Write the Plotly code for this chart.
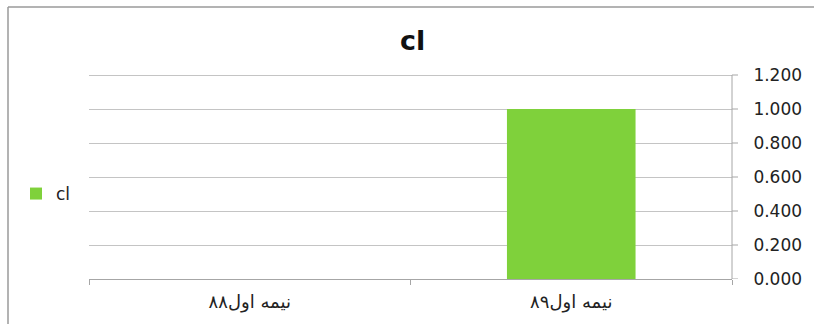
import plotly.graph_objects as go

categories = ["نیمه اول۸۸", "نیمه اول۸۹"]
values = [0, 1.0]
series_name = "cl"
tick_vals = [0, 0.2, 0.4, 0.6, 0.8, 1.0, 1.2]
tick_text = ["0.000", "0.200", "0.400", "0.600", "0.800", "1.000", "1.200"]

W, H = 814, 324
L, R, T, B = 89, 82, 72, 45
pw = W - L - R
ph = H - T - B
y_top = 1.2 * ph / 204.0  # keep 1.200 at y=75 and 0 at y=279

def px_x(x):
    return (x - L) / pw

def px_y(y):
    return (H - B - y) / ph

fig = go.Figure()
fig.add_trace(go.Bar(
    x=categories, y=values, name=series_name,
    marker=dict(color="#7fd13b", line=dict(width=0)),
    width=0.4, showlegend=True,
))

# axis line and short visible tick marks on the right value axis
axis_shapes = [
    dict(type="line", xref="paper", yref="y", x0=1, x1=1, y0=0, y1=max(tick_vals),
         line=dict(color="#a6a6a6", width=1)),
]
for tv in tick_vals:
    axis_shapes.append(dict(type="line", xref="paper", yref="y", x0=1, x1=1 + 6 / pw,
                            y0=tv, y1=tv, line=dict(color="#a6a6a6", width=1)))

border_shapes = [
    dict(type="line", xref="paper", yref="paper", x0=px_x(8), x1=px_x(814), y0=px_y(7), y1=px_y(7),
         line=dict(color="#9a9a9a", width=1.5)),
    dict(type="line", xref="paper", yref="paper", x0=px_x(8), x1=px_x(8), y0=px_y(7), y1=px_y(324),
         line=dict(color="#9a9a9a", width=1.5)),
]

fig.update_layout(
    width=W, height=H,
    margin=dict(l=L, r=R, t=T, b=B),
    paper_bgcolor="white", plot_bgcolor="white",
    font=dict(family="DejaVu Sans", color="#222222"),
    title=dict(text="<b>cl</b>", x=px_x(415), xanchor="center", y=1 - 41 / H, yanchor="middle",
               font=dict(size=27, family="DejaVu Sans", color="#111111")),
    showlegend=True,
    legend=dict(x=px_x(16), y=px_y(194), xanchor="left", yanchor="middle",
                font=dict(size=17, family="DejaVu Sans"), bgcolor="rgba(0,0,0,0)",
                itemwidth=30),
    xaxis=dict(
        type="category", showgrid=False, showline=True, linecolor="#a6a6a6", linewidth=1,
        ticks="outside", ticklen=5, tickcolor="#a6a6a6", tickson="boundaries",
        tickfont=dict(size=18, family="DejaVu Sans", color="#222222"),
        ticklabelstandoff=6,
        range=[-0.5, 1.5], fixedrange=True,
    ),
    yaxis=dict(
        side="right", range=[0, y_top], tickvals=tick_vals, ticktext=tick_text,
        showgrid=True, gridcolor="#c4c4c4", gridwidth=1,
        showline=False,
        ticks="outside", ticklen=17, tickcolor="rgba(0,0,0,0)",
        tickfont=dict(size=17, family="DejaVu Sans", color="#222222"),
        zeroline=False, fixedrange=True,
    ),
    bargap=0.6,
    shapes=axis_shapes + border_shapes,
)

fig.write_html("out.html")
